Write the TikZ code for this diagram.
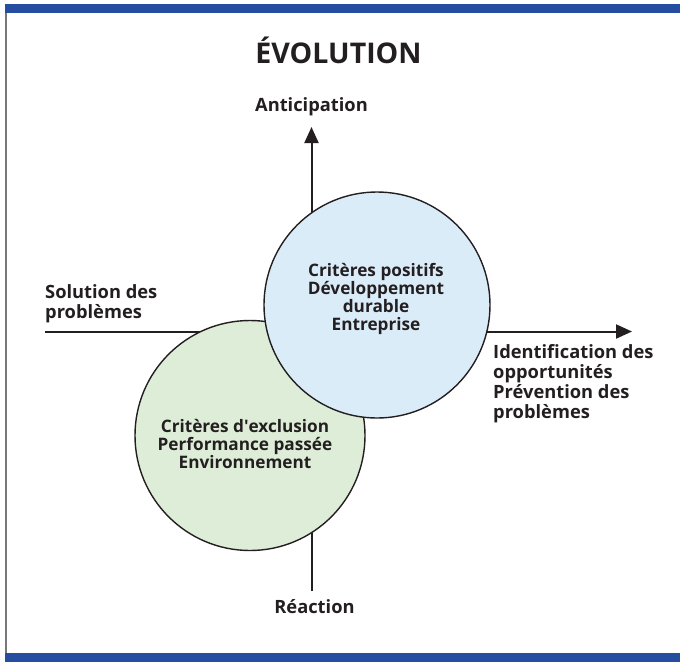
\documentclass[tikz,border=0pt]{standalone}
\usepackage{fontspec}
\setmainfont{Open Sans}
\newfontfamily\plainfont{Open Sans}
\usetikzlibrary{arrows.meta}
\definecolor{barblue}{RGB}{38,78,160}
\definecolor{edgegray}{RGB}{120,120,120}
\definecolor{ink}{RGB}{35,31,32}
\definecolor{bluefill}{RGB}{219,236,249}
\definecolor{greenfill}{RGB}{222,237,215}
\newcommand{\straightq}{{\plainfont\bfseries\symbol{39}}}
\tikzset{
  axis/.style={draw=ink, line width=2pt},
  tip/.style={-{Triangle[length=16pt,width=14pt]}},
  bubble/.style={circle, draw=ink, line width=1.4pt, inner sep=0pt},
  lbl/.style={text=ink, font=\bfseries\fontsize{18.3}{20}\selectfont, inner sep=0pt},
  ctext/.style={text=ink, font=\bfseries\fontsize{17.2}{18}\selectfont, align=center, inner sep=0pt},
}
\begin{document}
\begin{tikzpicture}[x=1pt,y=-1pt]
\useasboundingbox (0,0) rectangle (680,662);
\fill[white] (0,0) rectangle (680,662);
\fill[barblue] (5,4) rectangle (680,13);
\fill[barblue] (5,653) rectangle (680,662);
\draw[edgegray, line width=1.3pt] (6,13) -- (6,653);

\node[text=ink, font=\bfseries\fontsize{28.5}{30}\selectfont, anchor=base, inner sep=0pt] (title) at (338.5,63) {ÉVOLUTION};

\coordinate (vtop) at (311.5,127);
\coordinate (vbot) at (311.5,591);
\coordinate (hl) at (45,331.5);
\coordinate (hr) at (632,331.5);
\draw[axis, tip] (vbot) -- (vtop);
\draw[axis, tip] (hl) -- (hr);

\node[bubble, fill=greenfill, minimum size=230pt] (green) at (250,435.5) {};
\node[bubble, fill=bluefill, minimum size=226pt] (blue) at (377,305) {};

\node[ctext] (bt) at (376,299) {Critères positifs\\Développement\\durable\\Entreprise};
\node[ctext] (gt) at (245,444) {Critères d\straightq exclusion\\Performance passée\\Environnement};

\node[lbl, anchor=base] (ant) at (311.5,111) {Anticipation};
\node[lbl, anchor=base] (rea) at (314.5,613) {Réaction};
\node[lbl, align=left, anchor=north west] (sol) at (45,284) {Solution des\\problèmes};
\node[lbl, align=left, anchor=north west] (idf) at (493,344.5) {Identification des\\opportunités\\Prévention des\\problèmes};
\end{tikzpicture}
\end{document}
